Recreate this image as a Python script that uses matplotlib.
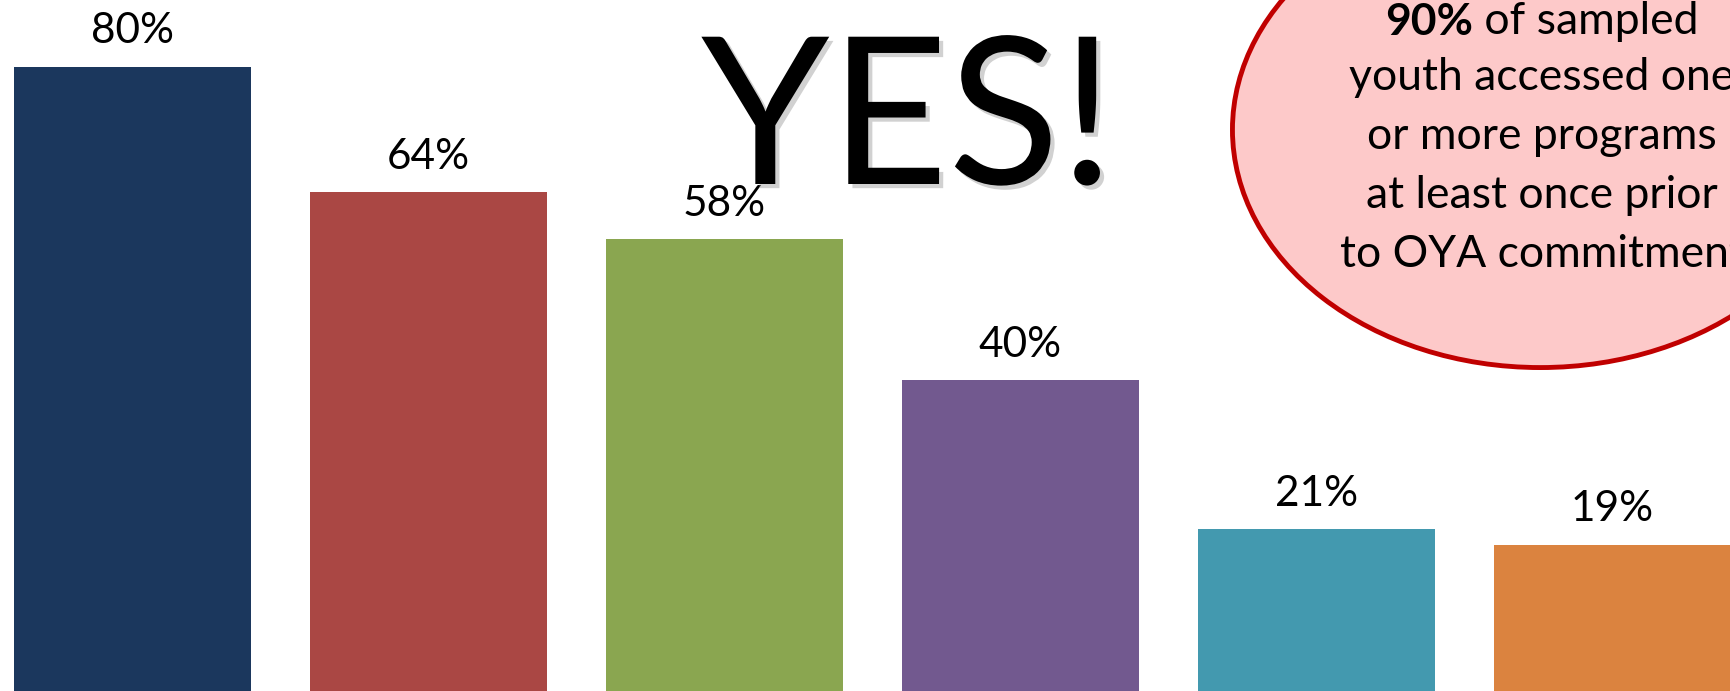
import matplotlib.pyplot as plt
from matplotlib.patches import Ellipse
import matplotlib.patheffects as pe

plt.rcParams['font.family'] = ['Lato', 'DejaVu Sans']

values = [80, 64, 58, 40, 21, 19]
labels = ['80%', '64%', '58%', '40%', '21%', '19%']
colors = ['#1B375D', '#AA4744', '#8AA650', '#72598F', '#4399AF', '#DB833F']

callout_bold = '90%'
callout_first = ' of sampled'
callout_rest = ['youth accessed one', 'or more programs',
                'at least once prior', 'to OYA commitment']

fig = plt.figure(figsize=(17.31, 6.91), dpi=100)
ax = fig.add_axes([0, 0, 1, 1])

x = list(range(len(values)))
ax.bar(x, values, width=0.8, color=colors)
for xi, v, lab in zip(x, values, labels):
    ax.annotate(lab, (xi, v), xytext=(0, 12), textcoords='offset points',
                ha='center', va='bottom', fontsize=30.5)

ax.set_xlim(-0.447, 5.40)
ax.set_ylim(0.38, 88.55)
ax.axis('off')

# callout bubble
ell = Ellipse((4.756, 72.0), 2.08, 60.7, facecolor='#FDC9C9',
              edgecolor='#C00000', linewidth=3.5, zorder=3)
ax.add_patch(ell)

# first line: bold "90%" + regular text, centred together
t1 = fig.text(0, 1 - 22 / 691, callout_bold, fontsize=32, fontweight='bold',
              ha='left', va='center', zorder=4)
t2 = fig.text(0, 1 - 22 / 691, callout_first, fontsize=32,
              ha='left', va='center', zorder=4)
fig.canvas.draw()
r = fig.canvas.get_renderer()
w1 = t1.get_window_extent(r).width
w2 = t2.get_window_extent(r).width
left = 1542 - (w1 + w2) / 2
t1.set_x(left / 1731)
t2.set_x((left + w1) / 1731)

fig.text(1542 / 1731, 1 - 166 / 691, '\n'.join(callout_rest), fontsize=32,
         ha='center', va='center', linespacing=1.54, zorder=4)

# big YES!
fig.text(908 / 1731, 1 - 184 / 691, 'YES!', fontsize=148, ha='center',
         va='baseline', color='black',
         path_effects=[pe.withSimplePatchShadow(offset=(3, -3), shadow_rgbFace='#999999', alpha=0.45)])

fig.savefig('out.png', dpi=100)
